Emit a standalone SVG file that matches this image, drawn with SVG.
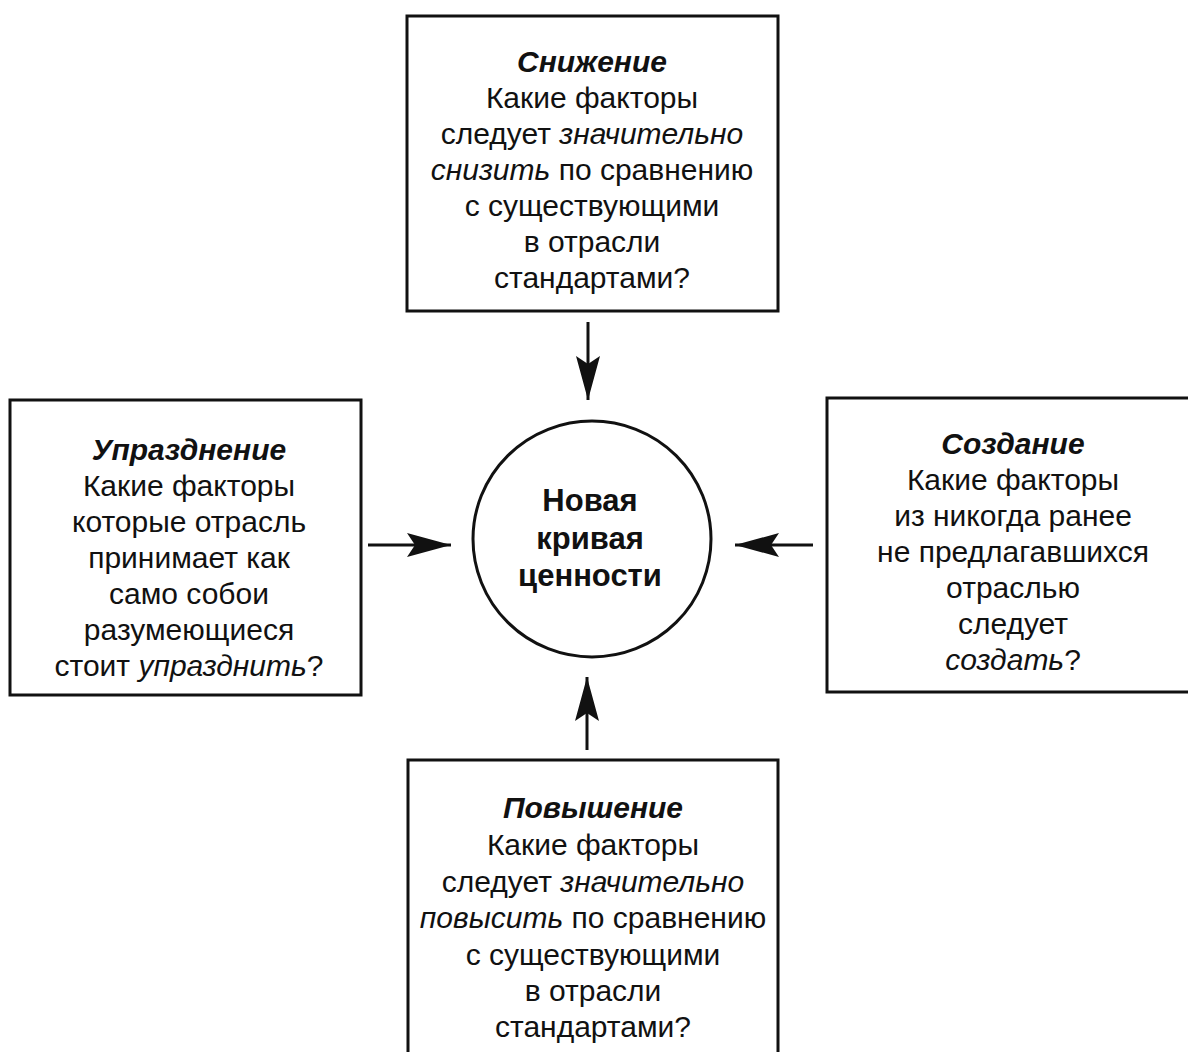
<svg xmlns="http://www.w3.org/2000/svg" width="1188" height="1052" viewBox="0 0 1188 1052">
<style>
.box{fill:#fff;stroke:#111;stroke-width:3}
.t{font-family:"Liberation Sans",Arial,sans-serif;font-size:30px;fill:#111;text-anchor:middle}
.h{font-weight:bold;font-style:italic}
.i{font-style:italic}
.c{font-family:"Liberation Sans",Arial,sans-serif;font-size:31px;font-weight:bold;fill:#111;text-anchor:middle}
.conn{stroke:#111;stroke-width:3;fill:none;marker-end:url(#ah)}
</style>
<defs>
<marker id="ah" viewBox="0 0 44 24" refX="44" refY="12" markerWidth="44" markerHeight="24" markerUnits="userSpaceOnUse" orient="auto">
<path d="M0,0 L44,12 L0,24 L8,12 Z" fill="#111"/>
</marker>
</defs>
<rect width="1188" height="1052" fill="#fff"/>
<g id="connectors">
<line class="conn" x1="588" y1="322" x2="588" y2="400"/>
<line class="conn" x1="368" y1="545" x2="451" y2="545"/>
<line class="conn" x1="813" y1="545" x2="735" y2="545"/>
<line class="conn" x1="587" y1="750" x2="587" y2="677"/>
</g>
<g id="node-reduce">
<rect class="box" x="407" y="16" width="371" height="295"/>
<text class="t" x="592" y="72"><tspan class="h">Снижение</tspan></text>
<text class="t" x="592" y="108">Какие факторы</text>
<text class="t" x="592" y="144">следует <tspan class="i">значительно</tspan></text>
<text class="t" x="592" y="180"><tspan class="i">снизить</tspan> по сравнению</text>
<text class="t" x="592" y="216">с существующими</text>
<text class="t" x="592" y="252">в отрасли</text>
<text class="t" x="592" y="288">стандартами?</text>
</g>
<g id="node-eliminate">
<rect class="box" x="10" y="400" width="351" height="295"/>
<text class="t" x="189" y="460"><tspan class="h">Упразднение</tspan></text>
<text class="t" x="189" y="496">Какие факторы</text>
<text class="t" x="189" y="532">которые отрасль</text>
<text class="t" x="189" y="568">принимает как</text>
<text class="t" x="189" y="604">само собои</text>
<text class="t" x="189" y="640">разумеющиеся</text>
<text class="t" x="189" y="676">стоит <tspan class="i">упразднить</tspan>?</text>
</g>
<g id="node-create">
<rect class="box" x="827" y="398" width="370" height="294"/>
<text class="t" x="1013" y="454"><tspan class="h">Создание</tspan></text>
<text class="t" x="1013" y="490">Какие факторы</text>
<text class="t" x="1013" y="526">из никогда ранее</text>
<text class="t" x="1013" y="562">не предлагавшихся</text>
<text class="t" x="1013" y="598">отраслью</text>
<text class="t" x="1013" y="634">следует</text>
<text class="t" x="1013" y="670"><tspan class="i">создать</tspan>?</text>
</g>
<g id="node-raise">
<rect class="box" x="408" y="760" width="370" height="310"/>
<text class="t" x="593" y="818"><tspan class="h">Повышение</tspan></text>
<text class="t" x="593" y="855">Какие факторы</text>
<text class="t" x="593" y="892">следует <tspan class="i">значительно</tspan></text>
<text class="t" x="593" y="928"><tspan class="i">повысить</tspan> по сравнению</text>
<text class="t" x="593" y="965">с существующими</text>
<text class="t" x="593" y="1001">в отрасли</text>
<text class="t" x="593" y="1037">стандартами?</text>
</g>
<g id="node-center">
<ellipse cx="592" cy="539" rx="119" ry="118" fill="#fff" stroke="#111" stroke-width="3"/>
<text class="c" x="590" y="511">Новая</text>
<text class="c" x="590" y="549">кривая</text>
<text class="c" x="590" y="586">ценности</text>
</g>
</svg>
